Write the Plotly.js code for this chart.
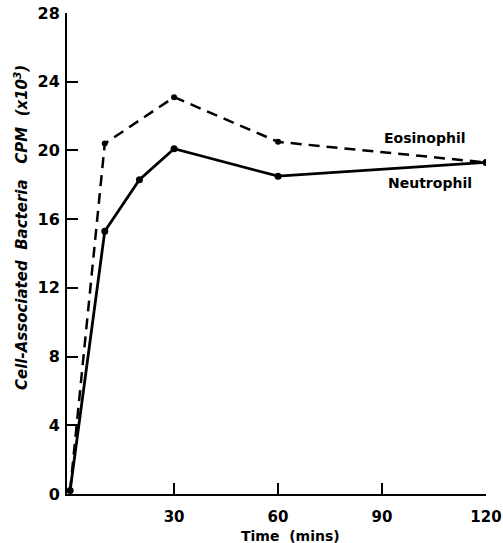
<!DOCTYPE html>
<html>
<head>
<meta charset="utf-8">
<script src="https://cdn.plot.ly/plotly-3.0.1.min.js"></script>
<style>html,body{margin:0;padding:0;background:#fff}#chart{width:503px;height:543px}</style>
</head>
<body>
<div id="chart"></div>
<script>
const eosTime = [0, 10, 30, 60, 120];
const eosCPM = [0.2, 20.4, 23.1, 20.5, 19.3];
const neuTime = [0, 10, 20, 30, 60, 120];
const neuCPM = [0.2, 15.3, 18.3, 20.1, 18.5, 19.3];
const xTicks = [30, 60, 90, 120];
const yTicks = [0, 4, 8, 12, 16, 20, 24, 28];

const FAM = "DejaVu Sans, Liberation Sans, sans-serif";
const bold = (s) => ({family: FAM, size: s, color: "#000000", weight: "bold"});

const traces = [
  {x: eosTime, y: eosCPM, mode: "lines+markers", name: "Eosinophil",
   line: {color: "#000", width: 2.5, dash: "11px,7px"},
   marker: {color: "#000", size: 6}},
  {x: neuTime, y: neuCPM, mode: "lines+markers", name: "Neutrophil",
   line: {color: "#000", width: 2.8},
   marker: {color: "#000", size: 7}}
];

const ML = 67, MR = 17, MT = 13, MB = 49;
const plotW = 503 - ML - MR, plotH = 543 - MT - MB;
const px = (x) => (x - ML) / plotW;
const py = (y) => (543 - MB - y) / plotH;

const layout = {
  width: 503, height: 543,
  margin: {l: ML, r: MR, t: MT, b: MB},
  paper_bgcolor: "#fff", plot_bgcolor: "#fff",
  showlegend: false,
  font: {family: FAM, size: 14, color: "#000"},
  xaxis: {
    range: [-0.9, 120], tickvals: xTicks, ticktext: xTicks.map(String),
    ticks: "inside", ticklen: 11, tickwidth: 2, tickcolor: "#000",
    showline: true, linecolor: "#000", linewidth: 2,
    showgrid: false, zeroline: false,
    ticklabelstandoff: 8,
    tickfont: bold(15)
  },
  yaxis: {
    range: [0, 28], tickvals: yTicks, ticktext: yTicks.map(String),
    ticks: "inside", ticklen: 11, tickwidth: 2, tickcolor: "#000",
    showline: true, linecolor: "#000", linewidth: 2,
    showgrid: false, zeroline: false,
    ticklabelstandoff: 2,
    tickfont: bold(16)
  },
  annotations: [
    {x: 102.3, y: 20.7, xref: "x", yref: "y", text: "Eosinophil", showarrow: false, font: bold(14)},
    {x: 103.7, y: 18.1, xref: "x", yref: "y", text: "Neutrophil", showarrow: false, font: bold(14)},
    {x: px(21), y: py(228), xref: "paper", yref: "paper", xanchor: "center", yanchor: "middle",
     text: "<span style='color:#000000'><i>Cell-Associated  Bacteria   CPM  (x10<sup>3</sup>)</i></span>",
     showarrow: false, textangle: -90, font: bold(15)},
    {x: px(290), y: py(536), xref: "paper", yref: "paper", xanchor: "center", yanchor: "middle",
     text: "Time  (mins)", showarrow: false, font: bold(14)}
  ]
};

Plotly.newPlot("chart", traces, layout, {displayModeBar: false, staticPlot: true});
</script>
</body>
</html>
